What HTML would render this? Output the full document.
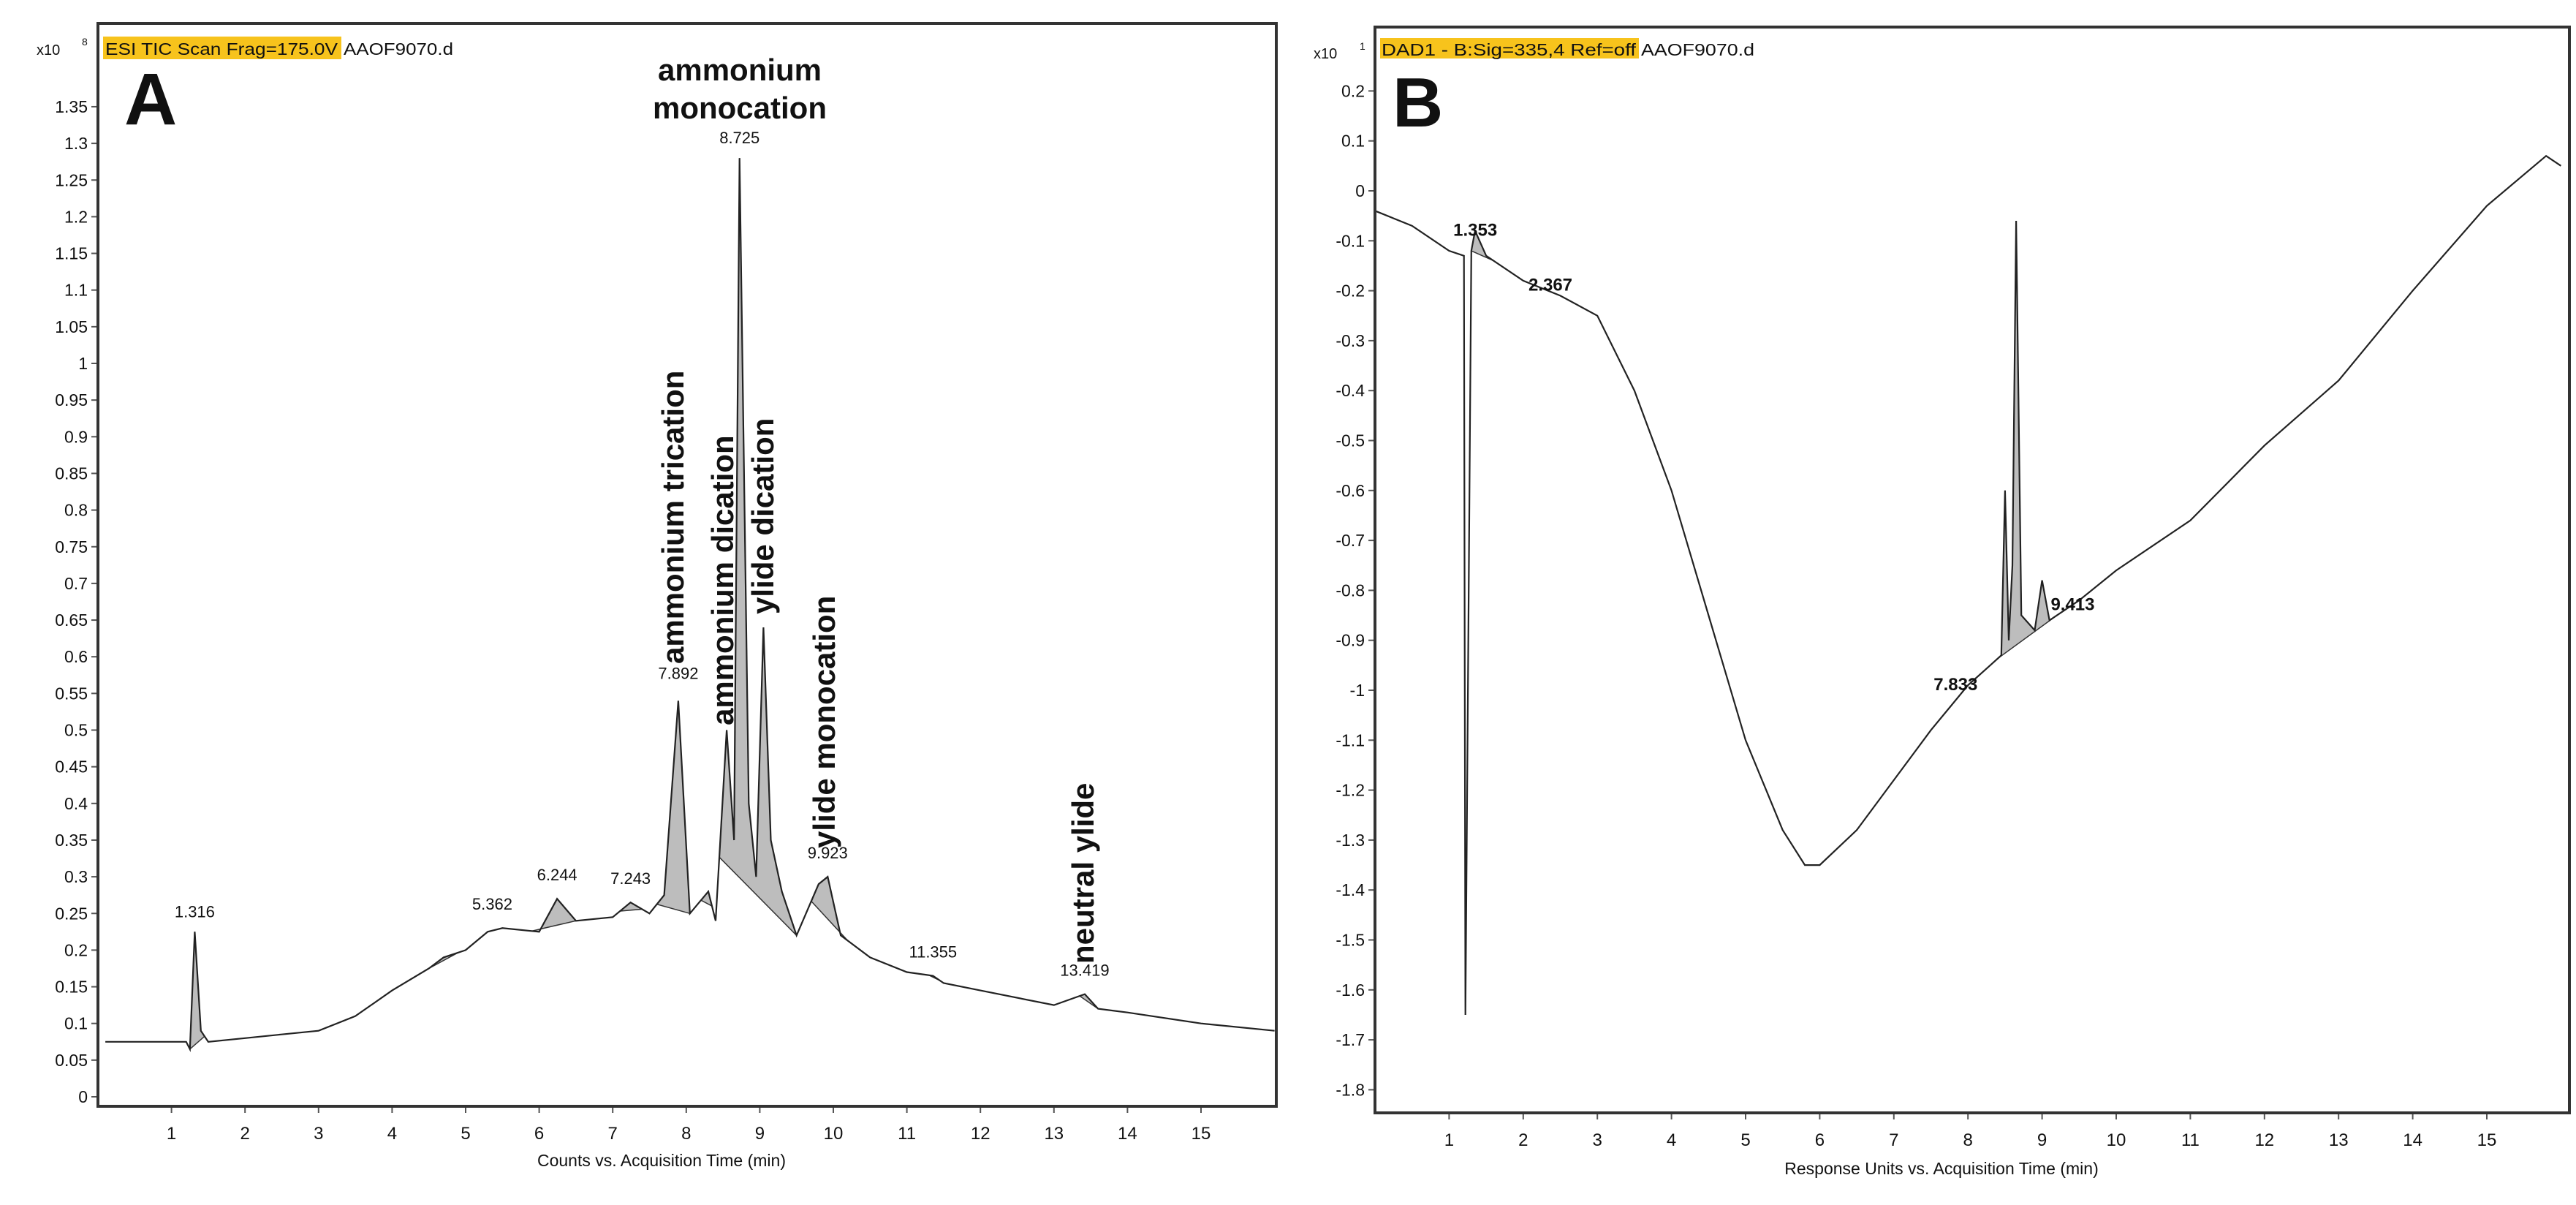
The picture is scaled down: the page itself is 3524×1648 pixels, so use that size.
<!DOCTYPE html>
<html><head><meta charset="utf-8"><style>
html,body{margin:0;padding:0;background:#fff;width:3524px;height:1648px;overflow:hidden}
svg{display:block}
text{font-family:"Liberation Sans",sans-serif;fill:#111}
</style></head><body>
<svg id="chart" width="3524" height="1648" viewBox="0 0 3524 1648" xmlns="http://www.w3.org/2000/svg">
<g id="panelA"></g>
<g id="panelB"></g>
</svg>
<script>
// Panel A data (x10^8 counts)
const aTimes = [0.1,1.2,1.25,1.316,1.4,1.5,2,2.5,3,3.5,4,4.5,4.7,5,5.3,5.5,6,6.244,6.5,7,7.243,7.5,7.7,7.892,8.05,8.3,8.4,8.55,8.65,8.725,8.85,8.95,9.05,9.15,9.3,9.5,9.8,9.923,10.1,10.5,11,11.355,11.5,12,13,13.419,13.6,14,15,16];
const aValues = [0.075,0.075,0.065,0.225,0.09,0.075,0.08,0.085,0.09,0.11,0.145,0.175,0.19,0.2,0.225,0.23,0.225,0.27,0.24,0.245,0.265,0.25,0.275,0.54,0.25,0.28,0.24,0.5,0.35,1.28,0.4,0.3,0.64,0.35,0.28,0.22,0.29,0.3,0.22,0.19,0.17,0.165,0.155,0.145,0.125,0.14,0.12,0.115,0.1,0.09];
const aPeakStarts = [1.25,4.5,5.9,7.1,7.6,8.2,8.45,9.7,11.3,13.35];
const aPeakEnds   = [1.45,4.9,6.5,7.4,8.05,8.35,9.5,10.2,11.45,13.6];
const aPeakLabels = ["1.316","5.362","6.244","7.243","7.892","8.725","9.923","11.355","13.419"];
const aPeakLabelTimes = [1.316,5.362,6.244,7.243,7.892,8.725,9.923,11.355,13.419];
const aPeakLabelVals = [0.245,0.255,0.295,0.29,0.57,1.3,0.325,0.19,0.165];
const aYTicks = [0,0.05,0.1,0.15,0.2,0.25,0.3,0.35,0.4,0.45,0.5,0.55,0.6,0.65,0.7,0.75,0.8,0.85,0.9,0.95,1,1.05,1.1,1.15,1.2,1.25,1.3,1.35];
const xTicks = [1,2,3,4,5,6,7,8,9,10,11,12,13,14,15];

// Panel B data (x10^1 response units)
const bTimes = [0,0.5,1,1.2,1.22,1.3,1.35,1.5,2,2.5,3,3.5,4,4.5,5,5.5,5.8,6,6.5,7,7.5,8,8.3,8.45,8.5,8.55,8.6,8.65,8.72,8.9,9,9.1,9.5,10,11,12,13,14,15,15.8,16];
const bValues = [-0.04,-0.07,-0.12,-0.13,-1.65,-0.12,-0.08,-0.13,-0.18,-0.21,-0.25,-0.4,-0.6,-0.85,-1.1,-1.28,-1.35,-1.35,-1.28,-1.18,-1.08,-0.99,-0.95,-0.93,-0.6,-0.9,-0.75,-0.06,-0.85,-0.88,-0.78,-0.86,-0.82,-0.76,-0.66,-0.51,-0.38,-0.2,-0.03,0.07,0.05];
const bPeakStarts = [1.3,7.7,8.4];
const bPeakEnds = [1.6,8.0,9.2];
const bPeakLabels = ["1.353","2.367","7.833","9.413"];
const bPeakLabelTimes = [1.353,2.367,7.833,9.413];
const bPeakLabelVals = [-0.09,-0.2,-1.0,-0.84];
const bYTicks = [-1.8,-1.7,-1.6,-1.5,-1.4,-1.3,-1.2,-1.1,-1,-0.9,-0.8,-0.7,-0.6,-0.5,-0.4,-0.3,-0.2,-0.1,0,0.1,0.2];

const NS="http://www.w3.org/2000/svg";
function mk(tag, attrs, parent){const e=document.createElementNS(NS,tag);for(const k in attrs)e.setAttribute(k,attrs[k]);parent.appendChild(e);return e;}
function interp(ts,vs,t){if(t<=ts[0])return vs[0];for(let i=1;i<ts.length;i++){if(t<=ts[i]){const f=(t-ts[i-1])/(ts[i]-ts[i-1]);return vs[i-1]+f*(vs[i]-vs[i-1]);}}return vs[vs.length-1];}

function drawPanel(g,cfg){
  const sx=t=>cfg.x0+(t-cfg.tmin)*cfg.px;
  const sy=v=>cfg.y0-(v-cfg.vzero)*cfg.py;
  for(let p=0;p<cfg.ps.length;p++){
    const a=cfg.ps[p],b=cfg.pe[p];
    let pts=[[a,interp(cfg.t,cfg.v,a)]];
    for(let i=0;i<cfg.t.length;i++) if(cfg.t[i]>a&&cfg.t[i]<b) pts.push([cfg.t[i],cfg.v[i]]);
    pts.push([b,interp(cfg.t,cfg.v,b)]);
    const el=mk('polygon',{points:pts.map(q=>sx(q[0]).toFixed(1)+','+sy(q[1]).toFixed(1)).join(' '),fill:'#bdbdbd',stroke:'#333','stroke-width':1.5},g);
    
    
  }
  const line=mk('polyline',{points:cfg.t.map((t,i)=>sx(t).toFixed(1)+','+sy(cfg.v[i]).toFixed(1)).join(' '),fill:'none',stroke:'#222','stroke-width':2.2},g);
  
  
  for(let i=0;i<cfg.lab.length;i++){
    const tx=mk('text',{x:sx(cfg.labT[i]),y:sy(cfg.labV[i]),'font-size':cfg.labSize,'text-anchor':'middle','font-weight':cfg.labW},g);
    tx.textContent=cfg.lab[i];
    
    
  }
  for(const v of cfg.yt){
    const y=sy(v);
    const tk=mk('line',{x1:cfg.x0-9,x2:cfg.x0,y1:y,y2:y,stroke:'#555','stroke-width':2},g);
    
    
    const tl=mk('text',{x:cfg.x0-14,y:y+8,'font-size':23,'text-anchor':'end'},g);
    tl.textContent=String(v);
    
    
  }
  for(const t of xTicks){
    const x=sx(t);
    const tk=mk('line',{x1:x,x2:x,y1:cfg.yb,y2:cfg.yb+9,stroke:'#555','stroke-width':2},g);
    
    
    const tl=mk('text',{x:x,y:cfg.yb+45,'font-size':24,'text-anchor':'middle'},g);
    tl.textContent=String(t);
    
    
  }
  const fr=mk('rect',{x:cfg.x0,y:cfg.yt0,width:cfg.xr-cfg.x0,height:cfg.yb-cfg.yt0,fill:'none',stroke:'#333','stroke-width':4},g);
  
  
}

const gA=document.getElementById('panelA');
drawPanel(gA,{x0:134,xr:1746,tmin:0,px:100.6,y0:1500,vzero:0,py:1003,yb:1513,yt0:32,
  t:aTimes,v:aValues,ps:aPeakStarts,pe:aPeakEnds,lab:aPeakLabels,labT:aPeakLabelTimes,labV:aPeakLabelVals,labSize:22,labW:'normal',yt:aYTicks});
const gB=document.getElementById('panelB');
drawPanel(gB,{x0:1881,xr:3515,tmin:0,px:101.4,y0:261,vzero:0,py:683,yb:1522,yt0:37,
  t:bTimes,v:bValues,ps:bPeakStarts,pe:bPeakEnds,lab:bPeakLabels,labT:bPeakLabelTimes,labV:bPeakLabelVals,labSize:24,labW:'bold',yt:bYTicks});
</script>
<svg style="position:absolute;left:0;top:0" width="3524" height="1648">
  <rect x="141" y="50" width="326" height="31" fill="#f7c31c"/>
  <text x="144" y="75" font-size="23" textLength="318" lengthAdjust="spacingAndGlyphs" font-family="Liberation Sans, sans-serif">ESI TIC Scan Frag=175.0V</text>
  <text x="470" y="75" font-size="23" textLength="150" lengthAdjust="spacingAndGlyphs" font-family="Liberation Sans, sans-serif">AAOF9070.d</text>
  <text x="50" y="75" font-size="20" font-family="Liberation Sans, sans-serif">x10</text>
  <text x="112" y="62" font-size="14" font-family="Liberation Sans, sans-serif">8</text>
  <text x="170" y="170" font-size="100" font-weight="bold" font-family="Liberation Sans, sans-serif">A</text>
  <text x="1012" y="110" font-size="42" font-weight="bold" text-anchor="middle" font-family="Liberation Sans, sans-serif">ammonium</text>
  <text x="1012" y="162" font-size="42" font-weight="bold" text-anchor="middle" font-family="Liberation Sans, sans-serif">monocation</text>
  <text transform="translate(935,908) rotate(-90)" font-size="42" font-weight="bold" font-family="Liberation Sans, sans-serif">ammonium trication</text>
  <text transform="translate(1003,992) rotate(-90)" font-size="42" font-weight="bold" font-family="Liberation Sans, sans-serif">ammonium dication</text>
  <text transform="translate(1058,840) rotate(-90)" font-size="42" font-weight="bold" font-family="Liberation Sans, sans-serif">ylide dication</text>
  <text transform="translate(1142,1160) rotate(-90)" font-size="42" font-weight="bold" font-family="Liberation Sans, sans-serif">ylide monocation</text>
  <text transform="translate(1496,1318) rotate(-90)" font-size="42" font-weight="bold" font-family="Liberation Sans, sans-serif">neutral ylide</text>
  <text x="905" y="1595" font-size="23" text-anchor="middle" font-family="Liberation Sans, sans-serif">Counts vs. Acquisition Time (min)</text>
  <rect x="1888" y="52" width="354" height="28" fill="#f7c31c"/>
  <text x="1890" y="76" font-size="23" textLength="348" lengthAdjust="spacingAndGlyphs" font-family="Liberation Sans, sans-serif">DAD1 - B:Sig=335,4  Ref=off</text>
  <text x="2245" y="76" font-size="23" textLength="155" lengthAdjust="spacingAndGlyphs" font-family="Liberation Sans, sans-serif">AAOF9070.d</text>
  <text x="1797" y="80" font-size="20" font-family="Liberation Sans, sans-serif">x10</text>
  <text x="1860" y="68" font-size="14" font-family="Liberation Sans, sans-serif">1</text>
  <text x="1905" y="173" font-size="96" font-weight="bold" font-family="Liberation Sans, sans-serif">B</text>
  <text x="2656" y="1606" font-size="23" text-anchor="middle" font-family="Liberation Sans, sans-serif">Response Units vs. Acquisition Time (min)</text>
</svg>
</body></html>
